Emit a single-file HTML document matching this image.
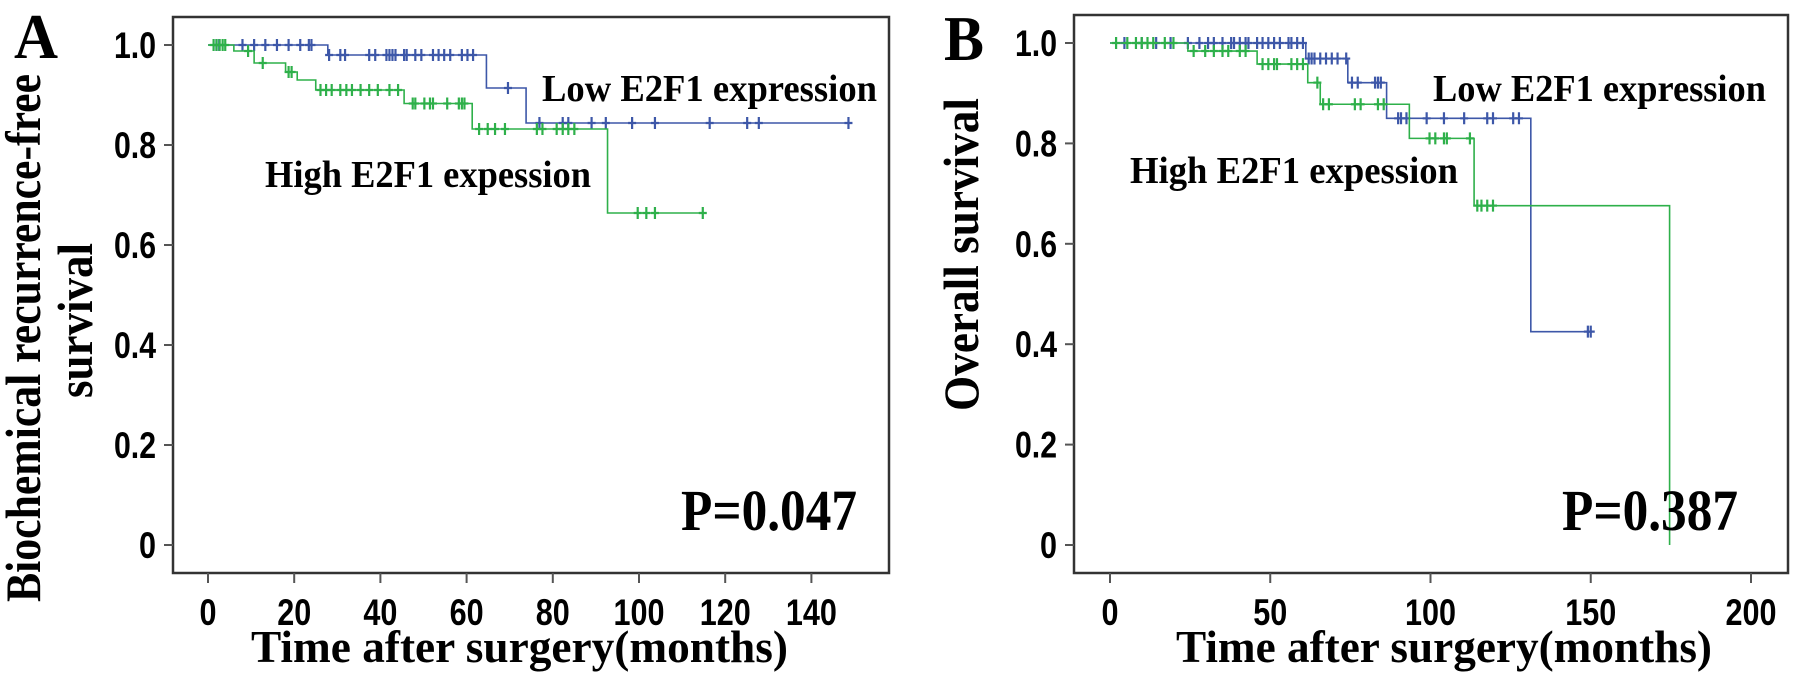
<!DOCTYPE html>
<html><head><meta charset="utf-8"><style>
html,body{margin:0;padding:0;background:#fff;}
svg{display:block;}
.tk{font-family:"Liberation Sans",sans-serif;font-weight:bold;font-size:37px;fill:#000;}
.sf{font-family:"Liberation Serif",serif;font-weight:bold;fill:#000;}
</style></head><body>
<svg id="fig" width="1798" height="678" viewBox="0 0 1798 678" xmlns="http://www.w3.org/2000/svg"></svg>
<script>
// ---------- Panel A data ----------
const aYTicks = [0, 0.2, 0.4, 0.6, 0.8, 1.0];
const aYTickLabels = ["0", "0.2", "0.4", "0.6", "0.8", "1.0"];
const aXTicks = [0, 20, 40, 60, 80, 100, 120, 140];
const aLowT = [0, 27.8, 64.6, 73.8, 148.6];
const aLowS = [1.0, 0.98, 0.914, 0.844, 0.844];
const aHighT = [0, 6, 10.7, 18, 20.7, 25, 45.5, 61.3, 92.7, 114.8];
const aHighS = [1.0, 0.988, 0.964, 0.946, 0.93, 0.91, 0.883, 0.832, 0.664, 0.664];
const aLowCens = [1.95,2.6,8,10.7,13.3,16,18.7,21.4,23.4,24,28.1,30.7,31.8,37.4,38.8,41.4,42.1,42.8,43.5,45.5,46.1,48.1,49.5,52.2,53.5,54.8,56.2,58.9,60.2,61.5,69.6,76.9,82.3,83.6,89,92.3,98.4,103.7,116.4,125.1,127.8,148.6];
const aHighCens = [1.3,2,2.7,3.4,4,9.3,12.7,18.7,19.4,26.1,27.4,28.7,30.7,32.1,33.4,35.4,37.4,39.4,42.1,44.1,47.5,48.1,50.2,51.5,52.2,55.5,58.2,58.9,59.5,62.9,64.9,66.6,68.9,76.3,77.6,80.9,82.3,83.6,85,99.7,101.7,103.7,114.8];
// ---------- Panel B data ----------
const bYTicks = [0, 0.2, 0.4, 0.6, 0.8, 1.0];
const bYTickLabels = ["0", "0.2", "0.4", "0.6", "0.8", "1.0"];
const bXTicks = [0, 50, 100, 150, 200];
const bLowT = [0, 61.1, 74.2, 86.3, 131.3, 150.9];
const bLowS = [1.0, 0.969, 0.921, 0.85, 0.425, 0.425];
const bHighT = [0, 24.3, 45.9, 61.7, 65.6, 93.4, 113.6, 174.6];
const bHighS = [1.0, 0.984, 0.958, 0.921, 0.878, 0.81, 0.676, 0];
const bLowCens = [4.5,9.9,14.4,18.9,24.3,27.9,30.6,32.4,35.1,37.8,38.7,40.5,42.3,43.2,45.9,47.6,49.4,51.2,53,55.7,56.6,58.4,60.2,62,62.9,63.8,65.6,67.4,69.2,71,73.7,75.5,77.3,82.7,83.6,84.5,89.9,90.8,92.5,98.8,104.2,110.5,117.7,119.5,125.8,127.6,149.1,150];
const bHighCens = [1.9,5.4,8.1,9.9,11.7,13.5,17.1,19.8,26.1,29.7,32.4,35.1,36.9,40.5,42.3,47.6,49.4,51.2,52.1,56.6,58.4,60.2,64.7,66.5,68.3,76.4,78.2,83.6,85.4,99.7,101.5,104.2,105.1,112.3,114.6,115.9,117.7,119.5];

const NS = "http://www.w3.org/2000/svg";
const svg = document.getElementById('fig');
function mk(tag, attrs, parent) {
  const e = document.createElementNS(NS, tag);
  for (const k in attrs) e.setAttribute(k, attrs[k]);
  (parent || svg).appendChild(e);
  return e;
}
function txt(s, attrs, parent) { const e = mk('text', attrs, parent); e.textContent = s; return e; }
function tkLen(s) { let w = 0; for (const c of s) w += (c === '.') ? 8 : 17; return w; }

function stepAt(T, S, t) { let v = S[0]; for (let i = 0; i < T.length; i++) { if (T[i] <= t) v = S[i]; } return v; }

function panel(cfg) {
  const g = mk('g', {});
  
  
  const X = t => cfg.x0 + t * cfg.pxPerT;
  const Y = v => cfg.y0 - v * cfg.pxPerV;
  const fr = mk('rect', {x: cfg.fl, y: cfg.ft, width: cfg.fr - cfg.fl, height: cfg.fb - cfg.ft, fill: 'none', stroke: '#333', 'stroke-width': 2.5}, g);
  
  
  cfg.yTicks.forEach((v, i) => {
    const l = mk('line', {x1: cfg.fl - 9, x2: cfg.fl, y1: Y(v), y2: Y(v), stroke: '#555', 'stroke-width': 2}, g);
    
    
    const s = cfg.yLabels[i];
    const t = txt(s, {x: cfg.fl - 17 - tkLen(s), y: Y(v) + 13, class: 'tk', textLength: tkLen(s), lengthAdjust: 'spacingAndGlyphs'}, g);
    
    
  });
  cfg.xTicks.forEach(v => {
    const l = mk('line', {x1: X(v), x2: X(v), y1: cfg.fb, y2: cfg.fb + 10, stroke: '#555', 'stroke-width': 2}, g);
    
    
    const s = String(v);
    const t = txt(s, {x: X(v) - tkLen(s) / 2, y: cfg.fb + 52, class: 'tk', textLength: tkLen(s), lengthAdjust: 'spacingAndGlyphs'}, g);
    
    
  });
  function curve(T, S, cens, color, nm) {
    let d = 'M' + X(T[0]) + ' ' + Y(S[0]);
    for (let i = 1; i < T.length; i++) { d += ' H' + X(T[i]) + ' V' + Y(S[i]); }
    const p = mk('path', {d: d, fill: 'none', stroke: color, 'stroke-width': 1.6}, g);
    
    
    cens.forEach(t => {
      const v = stepAt(T, S, t);
      const c = mk('path', {d: 'M' + (X(t) - 4) + ' ' + Y(v) + ' H' + (X(t) + 4) + ' M' + X(t) + ' ' + (Y(v) - 6) + ' V' + (Y(v) + 6), stroke: color, 'stroke-width': 2.2}, g);
      
      
    });
  }
  curve(cfg.lowT, cfg.lowS, cfg.lowC, '#3d57a8', 'low-e2f1');
  curve(cfg.highT, cfg.highS, cfg.highC, '#2eb04a', 'high-e2f1');
  return g;
}

const gA = panel({name: 'panel-a', fl: 173, fr: 889, ft: 17, fb: 573, x0: 208, pxPerT: 4.31, y0: 545, pxPerV: 500,
  yTicks: aYTicks, yLabels: aYTickLabels, xTicks: aXTicks, lowT: aLowT, lowS: aLowS, lowC: aLowCens, highT: aHighT, highS: aHighS, highC: aHighCens});
const gB = panel({name: 'panel-b', fl: 1074, fr: 1788, ft: 15, fb: 573, x0: 1110, pxPerT: 3.205, y0: 545, pxPerV: 502,
  yTicks: bYTicks, yLabels: bYTickLabels, xTicks: bXTicks, lowT: bLowT, lowS: bLowS, lowC: bLowCens, highT: bHighT, highS: bHighS, highC: bHighCens});

function label(s, x, y, size, len, nm, rot, parent) {
  const a = {x: x, y: y, class: 'sf', 'font-size': size, textLength: len, lengthAdjust: 'spacingAndGlyphs'};
  if (rot) a.transform = 'rotate(-90 ' + x + ' ' + y + ')';
  const t = txt(s, a, parent);
  
  
}
label('A', 14, 58, 64, 44, 'panel-a-letter', false, gA);
label('Biochemical recurrence-free', 40, 602, 50, 528, 'y-axis-title', true, gA);
label('survival', 92, 398, 50, 155, 'y-axis-title-line2', true, gA);
label('Time after surgery(months)', 251, 662, 46, 537, 'x-axis-title', false, gA);
label('Low E2F1 expression', 542, 101, 38, 335, 'legend-low', false, gA);
label('High E2F1 expession', 265, 187, 38, 326, 'legend-high', false, gA);
label('P=0.047', 681, 530, 58, 176, 'p-value', false, gA);
label('B', 944, 60, 64, 40, 'panel-b-letter', false, gB);
label('Overall  survival', 978, 411, 50, 313, 'y-axis-title', true, gB);
label('Time after surgery(months)', 1176, 662, 46, 536, 'x-axis-title', false, gB);
label('Low E2F1 expression', 1433, 101, 38, 333, 'legend-low', false, gB);
label('High E2F1 expession', 1130, 183, 38, 328, 'legend-high', false, gB);
label('P=0.387', 1562, 530, 58, 176, 'p-value', false, gB);
</script>
</body></html>
